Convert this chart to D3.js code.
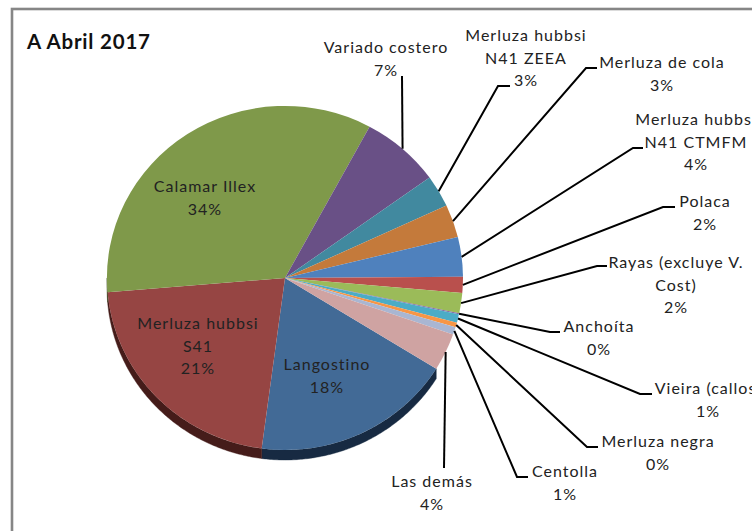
<!DOCTYPE html>
<html><head><meta charset="utf-8">
<script src="https://cdn.jsdelivr.net/npm/d3@7/dist/d3.min.js"></script>
<style>html,body{margin:0;padding:0;background:#fff;overflow:hidden}text{font-family:Lato,"Open Sans",sans-serif;fill:#222}</style>
</head><body><svg id="c" width="752" height="531"></svg>
<script>
const categories=["Langostino","Merluza hubbsi S41","Calamar Illex","Variado costero","Merluza hubbsi N41 ZEEA","Merluza de cola","Merluza hubbsi N41 CTMFM","Polaca","Rayas (excluye V. Cost)","Anchoíta","Vieira (callos)","Merluza negra","Centolla","Las demás"];
const values=[18.25,21.6,34.2,7.2,3.0,3.1,3.7,1.5,1.9,0.1,0.8,0.45,0.7,3.5];
const percentLabels=["18%","21%","34%","7%","3%","3%","4%","2%","2%","0%","1%","0%","1%","4%"];
const labelLines=[["Langostino"],["Merluza hubbsi","S41"],["Calamar Illex"],["Variado costero"],["Merluza hubbsi","N41 ZEEA"],["Merluza de cola"],["Merluza hubbsi","N41 CTMFM"],["Polaca"],["Rayas (excluye V.","Cost)"],["Anchoíta"],["Vieira (callos)"],["Merluza negra"],["Centolla"],["Las demás"]];
const colors=["#426a96","#964543","#7f994a","#695086","#41899f","#c47a3b","#4f81bd","#b9504d","#9bbb59","#8064a2","#4bacc6","#f79646","#a9b6d2","#cfa3a2"];
const sideColors=["#172a42","#451c1a","#3a4a20","#30243e","#1d4049","#5e3816","#23405f","#5e2422","#4c5e2a","#3c2e50","#225663","#7a4a20","#5a6070","#6a5250"];
const labelX=[327,198,205,386,526,662,696,705,676,599,708,658,565,432];
const labelY=[370,329,192,53,41,68,125,207,268,332,394,447,477,487];
const elbows=[null,null,null,[402,76,402],[498,86,510],[586,68,597],[633,148,643],[663,207,675],[597,266,607],[550,332,560],[640,394,652],[587,447,598],[517,477,528],[444,468,444]];

const W=752,H=531,cx=285,cy=278,rx=178,ry=172,depth=10,startDeg=121.8;
const svg=d3.select("#c");
svg.append("rect").attr("x",12).attr("y",9).attr("width",W+20).attr("height",H+20).attr("fill","#fff").attr("stroke","#868686").attr("stroke-width",2.6);

const pie=d3.pie().sort(null).startAngle(startDeg*Math.PI/180).endAngle((startDeg+360)*Math.PI/180)(values);
const arc=d3.arc().innerRadius(0).outerRadius(1);
const g=svg.append("g");
pie.forEach((d,i)=>{
  const a0=Math.max(d.startAngle,Math.PI/2),a1=Math.min(d.endAngle,3*Math.PI/2);
  if(a1<=a0)return;
  const ts=d3.range(a0,a1,0.01).concat([a1]);
  const pts=ts.map(t=>[cx+rx*Math.sin(t),cy-ry*Math.cos(t)]);
  const low=pts.slice().reverse().map(p=>[p[0],p[1]+depth]);
  g.append("path").attr("d",d3.line()(pts.concat(low))+"Z").attr("fill",sideColors[i]).attr("stroke",sideColors[i]).attr("stroke-width",.4);
});
g.selectAll("path.s").data(pie).join("path").attr("class","s")
 .attr("transform",`translate(${cx},${cy}) scale(${rx},${ry})`)
 .attr("d",arc).attr("fill",(d,i)=>colors[i]);

const lg=svg.append("g");
pie.forEach((d,i)=>{
  const e=elbows[i]; if(!e)return;
  const t=(d.startAngle+d.endAngle)/2;
  const wall=(t>95*Math.PI/180&&t<Math.PI)?depth+1:0;
  const p=[cx+rx*Math.sin(t)-(wall?1.5:0),cy-ry*Math.cos(t)+wall];
  lg.append("path").attr("fill","none").attr("stroke","#000").attr("stroke-width",2)
    .attr("d",d3.line()([p,[e[0],e[1]],[e[2],e[1]]]));
});
const lh=22.6;
categories.forEach((c,i)=>{
  const t=svg.append("text").attr("text-anchor","middle").attr("font-size",16).attr("letter-spacing",1);
  const lines=labelLines[i].concat([percentLabels[i]]);
  lines.forEach((s,j)=>t.append("tspan").attr("x",labelX[i]).attr("y",labelY[i]+j*lh).text(s));
});
svg.append("text").attr("x",27).attr("y",49).attr("font-size",20.5).attr("letter-spacing",0.8).attr("font-weight",700).style("fill","#111").text("A Abril 2017");
</script></body></html>
